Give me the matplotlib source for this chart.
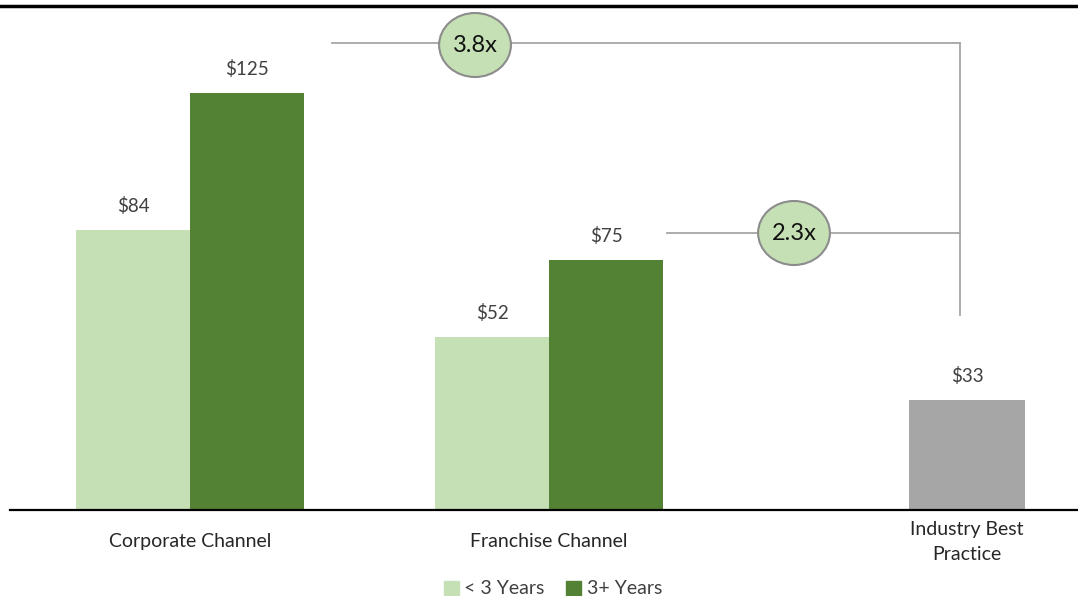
import matplotlib.pyplot as plt
from matplotlib.patches import Ellipse
from matplotlib.lines import Line2D
from matplotlib.patches import Patch

categories = ["Corporate Channel", "Franchise Channel", "Industry Best\nPractice"]
under3 = [84, 52]
over3 = [125, 75]
industry = 33
multiples = ["3.8x", "2.3x"]

light = "#c5e0b4"
dark = "#548235"
grey = "#a6a6a6"
txt = "#404040"

plt.rcParams['font.family'] = ['Lato', 'DejaVu Sans']

W, H = 1078, 596
fig = plt.figure(figsize=(W / 100, H / 100), dpi=100)
ax = fig.add_axes([10 / W, 86 / H, 1068 / W, 500 / H])

pos = [0, 3.149, 6.816]
bw = 1.0
vsize = 13.5

for i in range(2):
    ax.bar(pos[i] - bw / 2, under3[i], width=bw, color=light)
    ax.bar(pos[i] + bw / 2, over3[i], width=bw, color=dark)
    ax.text(pos[i] - bw / 2, under3[i] + 4.5, f"${under3[i]}", ha="center", va="bottom",
            fontsize=vsize, color=txt)
    ax.text(pos[i] + bw / 2, over3[i] + 4.5, f"${over3[i]}", ha="center", va="bottom",
            fontsize=vsize, color=txt)
ax.bar(pos[2], industry, width=bw * 1.02, color=grey)
ax.text(pos[2], industry + 4.5, f"${industry}", ha="center", va="bottom", fontsize=vsize, color=txt)

# connectors to industry best practice
xr = 6.754
y1, y2 = 140.1, 83.1
ax.plot([1.246, xr], [y1, y1], color=grey, lw=1.3, zorder=2)
ax.plot([4.184, xr], [y2, y2], color=grey, lw=1.3, zorder=2)
ax.plot([xr, xr], [y1, 58.5], color=grey, lw=1.3, zorder=2)
for (cx, cy), lab in zip([(2.5, y1 - 0.6), (5.298, y2)], multiples):
    ax.add_patch(Ellipse((cx, cy), 0.63, 19.2, facecolor=light, edgecolor="#8c8c8c",
                         lw=1.5, zorder=3))
    ax.text(cx, cy, lab, ha="center", va="center", fontsize=17, color="#111111", zorder=4)

ax.set_xlim(-1.579, 7.789)
ax.set_ylim(0, 150)
for s in ["top", "right", "left"]:
    ax.spines[s].set_visible(False)
ax.spines["bottom"].set_linewidth(1.6)
ax.spines["bottom"].set_color("black")
ax.set_yticks([])
ax.set_xticks(pos)
ax.set_xticklabels(categories, fontsize=14, color="#262626", va="center", linespacing=1.55)
ax.tick_params(axis="x", length=0, pad=23)

handles = [Patch(color=light), Patch(color=dark)]
fig.legend(handles, ["< 3 Years", "3+ Years"], loc="center", bbox_to_anchor=(553 / W, 1 - 589 / H),
           ncol=2, frameon=False, fontsize=14, handlelength=0.75, handleheight=0.75,
           handletextpad=0.3, columnspacing=1.1, labelcolor=txt)

fig.add_artist(Line2D([0, 1], [1 - 6 / H, 1 - 6 / H], color="black", lw=2.5))

fig.savefig("out.png", dpi=100)
